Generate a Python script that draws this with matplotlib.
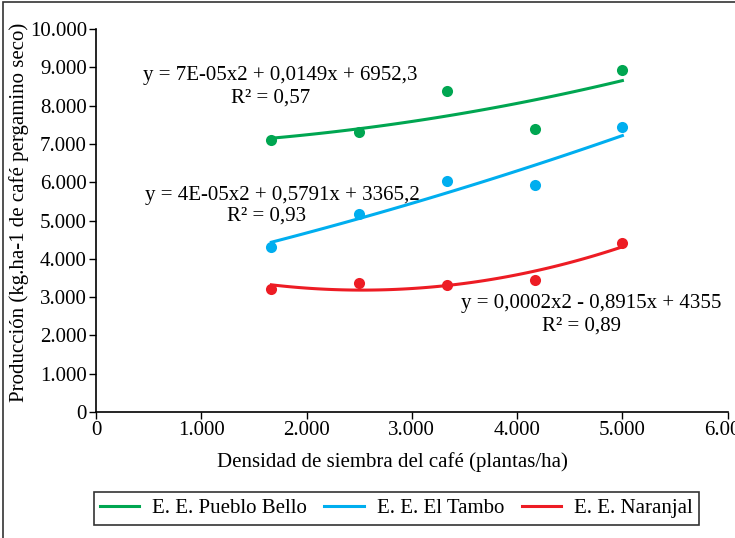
import numpy as np
import matplotlib
matplotlib.use('Agg')
import matplotlib.pyplot as plt
from matplotlib.ticker import FuncFormatter
from matplotlib.patches import Rectangle

plt.rcParams['font.family'] = ['Liberation Serif', 'DejaVu Serif']

# densidad de siembra (plantas/ha)
densidad = [1666, 2500, 3333, 4166, 5000]

# produccion (kg/ha cafe pergamino seco)
pueblo_bello = [7090, 7300, 8380, 7380, 8930]
el_tambo = [4320, 5180, 6020, 5920, 7430]
naranjal = [3220, 3380, 3320, 3460, 4420]

series = ['E. E. Pueblo Bello', 'E. E. El Tambo', 'E. E. Naranjal']
colores = ['#00A651', '#00AEEF', '#ED1C24']
ecuaciones = ['y = 7E-05x2 + 0,0149x + 6952,3',
              'y = 4E-05x2 + 0,5791x + 3365,2',
              'y = 0,0002x2 - 0,8915x + 4355']
r2 = ['R\u00b2 = 0,57', 'R\u00b2 = 0,93', 'R\u00b2 = 0,89']

fs = 15

def miles(v, pos):
    return '{:,.0f}'.format(v).replace(',', '.')

fig = plt.figure(figsize=(7.35, 5.38), dpi=100)
ax = fig.add_axes([0.1306, 0.2342, 0.8594, 0.7118])

xs = np.linspace(densidad[0], densidad[-1], 100)
for datos, nombre, c in zip([pueblo_bello, el_tambo, naranjal], series, colores):
    coef = np.polyfit(densidad, datos, 2)
    ax.plot(xs, np.polyval(coef, xs), color=c, lw=2.2, label=nombre)
    ax.plot(densidad, datos, 'o', color=c, ms=8, mec='none')

# ecuaciones (posicion en datos)
ax.text(1746, 8796, ecuaciones[0], ha='center', va='center', fontsize=fs)
ax.text(1660, 8194, r2[0], ha='center', va='center', fontsize=fs)
ax.text(1775, 5654, ecuaciones[1], ha='center', va='center', fontsize=fs)
ax.text(1622, 5105, r2[1], ha='center', va='center', fontsize=fs)
ax.text(4704, 2827, ecuaciones[2], ha='center', va='center', fontsize=fs)
ax.text(4609, 2251, r2[2], ha='center', va='center', fontsize=fs)

ax.set_xlim(0, 6000)
ax.set_ylim(0, 10000)
ax.set_xticks(np.arange(0, 6001, 1000))
ax.set_yticks(np.arange(0, 10001, 1000))
ax.xaxis.set_major_formatter(FuncFormatter(miles))
ax.yaxis.set_major_formatter(FuncFormatter(miles))
ax.tick_params(labelsize=fs, length=5, width=1, direction='out', pad=1.5)
for s in ['top', 'right']:
    ax.spines[s].set_visible(False)
for s in ['left', 'bottom']:
    ax.spines[s].set_linewidth(1.2)

ax.set_xlabel('Densidad de siembra del café (plantas/ha)', fontsize=fs)
ax.xaxis.set_label_coords(0.47, -0.105)
ax.set_ylabel('Producción (kg.ha-1 de café pergamino seco)', fontsize=fs)
ax.yaxis.set_label_coords(-0.106, 0.52)

handles = [h for h in ax.get_lines() if h.get_label() in series]
leg = fig.legend(handles=handles, loc='center', bbox_to_anchor=(0.539, 0.0548),
                 ncol=3, fontsize=fs, frameon=True, fancybox=False,
                 edgecolor='black', handlelength=1.9, columnspacing=0.85,
                 borderpad=0.3, handletextpad=0.6, borderaxespad=0.2)
leg.get_frame().set_linewidth(1.2)

# marco de la figura
fig.add_artist(Rectangle((3 / 735, -0.1), 1.2, 1 - 2 / 538 + 0.1,
                         transform=fig.transFigure, fill=False,
                         edgecolor='#333333', lw=1.2))

fig.savefig('out.png', dpi=100)
